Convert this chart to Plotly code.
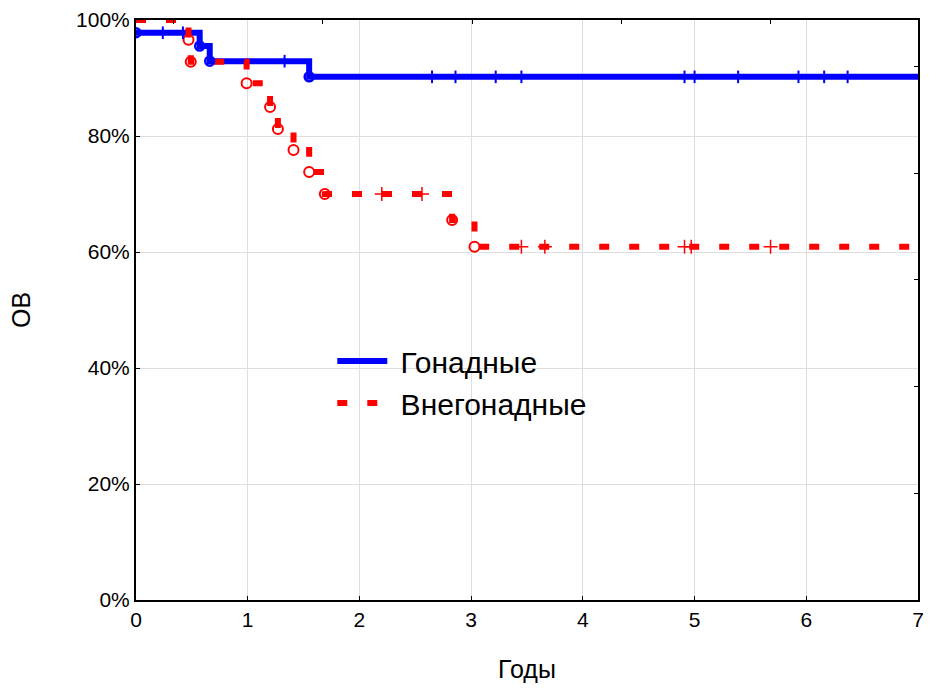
import plotly.graph_objects as go

# Kaplan–Meier curves: overall survival (%) by tumour localisation
years_gon = [0.0, 0.57, 0.66, 1.55, 7.0]
os_gon = [97.8, 95.5, 92.9, 90.2, 90.2]
cens_gon_t = [0.24, 0.42, 1.33, 2.65, 2.86, 3.22, 3.45, 4.91, 5.0, 5.39, 5.93, 6.16, 6.37]

years_ext = [0.0, 0.47, 0.49, 0.99, 1.2, 1.27, 1.41, 1.55, 1.69, 2.83, 3.03, 7.0]
os_ext = [100.0, 96.6, 92.8, 89.1, 85.0, 81.2, 77.6, 73.8, 70.0, 65.5, 60.9, 60.9]
cens_ext_t = [2.2, 2.56, 3.45, 3.66, 4.91, 4.97, 5.68]

x_ticks = [0, 1, 2, 3, 4, 5, 6, 7]
y_ticks = [0, 20, 40, 60, 80, 100]

BLUE = "#0000FF"
RED = "#FF0000"
FONT = "Arial, Liberation Sans, sans-serif"
NBSP = "\u00a0"


def surv_at(times, values, t):
    """Step-function value of the survival curve at time t."""
    v = values[0]
    for ti, vi in zip(times, values):
        if ti <= t:
            v = vi
    return v


fig = go.Figure()

# survival step lines
fig.add_trace(go.Scatter(
    x=years_gon, y=os_gon, mode="lines", line_shape="hv",
    line=dict(color=BLUE, width=6), name=NBSP + "Гонадные"))
fig.add_trace(go.Scatter(
    x=years_ext, y=os_ext, mode="lines", line_shape="hv",
    line=dict(color=RED, width=6, dash="10px,20px"), name=NBSP + "Внегонадные"))

# events (open circles)
fig.add_trace(go.Scatter(
    x=years_gon[:-1], y=os_gon[:-1], mode="markers", showlegend=False,
    marker=dict(symbol="circle-open", size=9, color=BLUE, line=dict(width=2.5))))
fig.add_trace(go.Scatter(
    x=years_ext[1:-1], y=os_ext[1:-1], mode="markers", showlegend=False,
    marker=dict(symbol="circle-open", size=10, color=RED, line=dict(width=2))))

# censored observations (+)
fig.add_trace(go.Scatter(
    x=cens_gon_t, y=[surv_at(years_gon, os_gon, t) for t in cens_gon_t],
    mode="markers", showlegend=False,
    marker=dict(symbol="line-ns", size=9, color=BLUE, line=dict(width=2, color=BLUE))))
fig.add_trace(go.Scatter(
    x=cens_ext_t, y=[surv_at(years_ext, os_ext, t) for t in cens_ext_t],
    mode="markers", showlegend=False,
    marker=dict(symbol="cross-thin", size=10, color=RED, line=dict(width=1.5, color=RED))))

# placeholder trace so the secondary (top/right) axes are drawn
fig.add_trace(go.Scatter(x=[None], y=[None], xaxis="x2", yaxis="y2",
                         showlegend=False, hoverinfo="skip"))

axis_common = dict(
    showline=True, linecolor="black", linewidth=2, mirror=True,
    showgrid=True, gridcolor="#dedede", gridwidth=1,
    ticks="inside", ticklen=4, tickcolor="black", tickwidth=1,
    tickfont=dict(family=FONT, size=21, color="black"),
    zeroline=False, automargin=False,
)

fig.update_layout(
    width=932, height=688,
    margin=dict(l=136, r=14, t=20, b=88),
    paper_bgcolor="white", plot_bgcolor="white",
    font=dict(family=FONT, color="black"),
    xaxis=dict(range=[0, 7], tickvals=x_ticks,
               title=dict(text="Годы", font=dict(size=25), standoff=30),
               **axis_common),
    yaxis=dict(range=[0, 100], tickvals=y_ticks,
               ticktext=[f"{v}%" for v in y_ticks],
               title=dict(text="ОВ", font=dict(size=25), standoff=38),
               **axis_common),
    xaxis2=dict(overlaying="x", side="top", range=[0, 7], tick0=-1.0, dtick=1.336,
                ticks="inside", ticklen=4, tickcolor="black", showticklabels=False,
                showgrid=False, showline=False, zeroline=False, automargin=False),
    yaxis2=dict(overlaying="y", side="right", range=[0, 100], tick0=0, dtick=18.4,
                ticks="inside", ticklen=4, tickcolor="black", showticklabels=False,
                showgrid=False, showline=False, zeroline=False, automargin=False),
    legend=dict(x=0.251, y=0.457, xanchor="left", yanchor="top",
                bgcolor="rgba(0,0,0,0)", font=dict(family=FONT, size=30),
                itemwidth=50),
    showlegend=True,
)

fig.write_html("out.html")
